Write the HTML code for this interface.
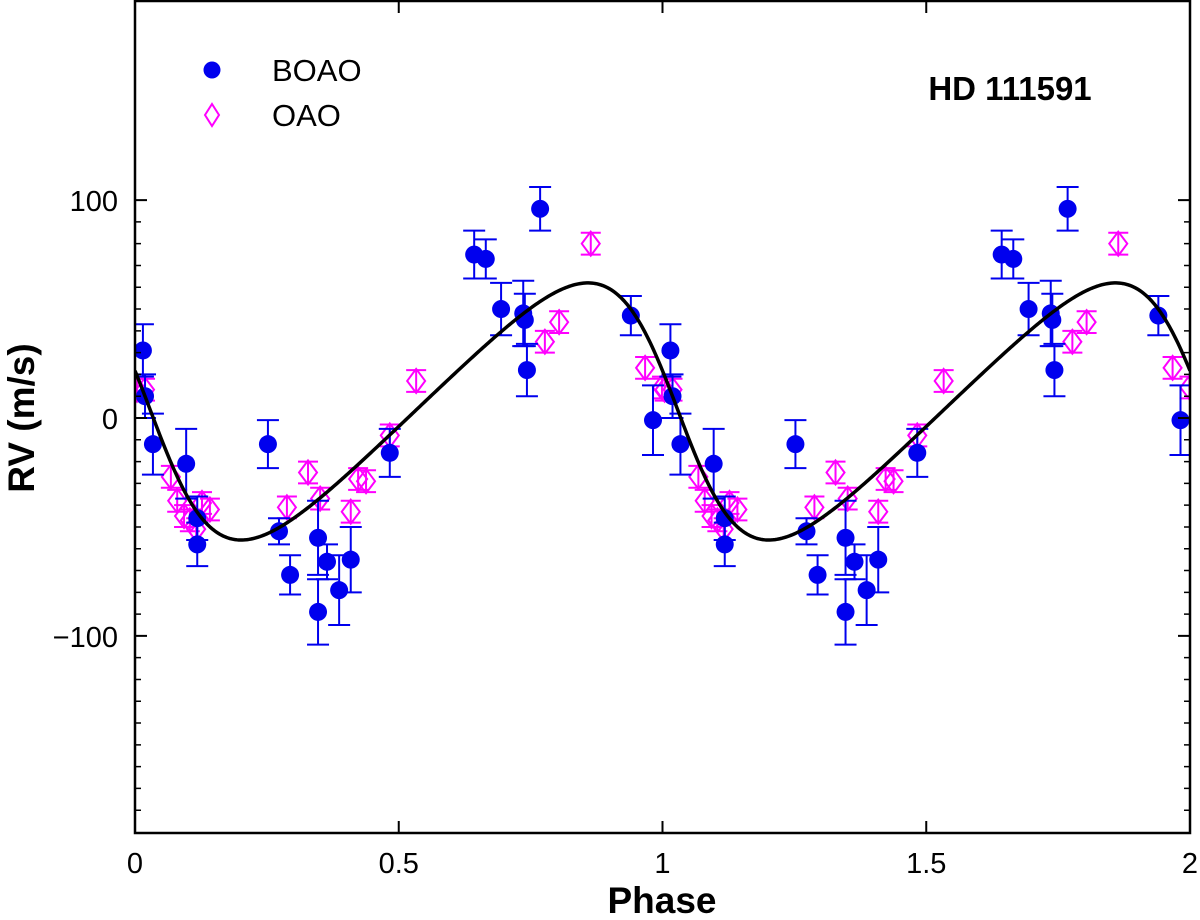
<!DOCTYPE html>
<html><head><meta charset="utf-8"><style>
body{margin:0;background:#fff;}
svg{display:block;font-family:"Liberation Sans",sans-serif;}
</style></head><body>
<svg id="chart" width="1200" height="920" viewBox="0 0 1200 920" xmlns="http://www.w3.org/2000/svg">
<defs><clipPath id="pc"><rect x="135" y="1" width="1055" height="832"/></clipPath></defs>
<g id="marks" clip-path="url(#pc)"></g>
<rect x="135" y="1" width="1055" height="832" fill="none" stroke="#000" stroke-width="2.5"/>
<g id="axes"></g>
<text x="662" y="913" font-size="37" font-weight="bold" text-anchor="middle">Phase</text>
<text transform="translate(34,418) rotate(-90)" font-size="37" font-weight="bold" text-anchor="middle">RV (m/s)</text>
<text x="1010" y="100" font-size="33" font-weight="bold" text-anchor="middle">HD 111591</text>
<g>
<circle cx="212" cy="70" r="8.5" fill="#0000ee"/>
<text x="272" y="81" font-size="31">BOAO</text>
<path d="M212 104 L219 115 L212 126 L205 115 Z" fill="none" stroke="#ff00ff" stroke-width="2"/>
<text x="272" y="126" font-size="31">OAO</text>
</g>
</svg>
<script>
const boaoPhase=[0.015,0.019,0.034,0.097,0.118,0.118,0.252,0.273,0.294,0.347,0.347,0.364,0.387,0.409,0.483,0.643,0.665,0.694,0.736,0.739,0.743,0.768,0.940,0.982];
const boaoRV=[31,10,-12,-21,-46,-58,-12,-52,-72,-55,-89,-66,-79,-65,-16,75,73,50,48,45,22,96,47,-1];
const boaoErr=[12,10,14,16,10,10,11,6,9,17,15,8,16,15,11,11,9,12,15,12,12,10,9,16];
const oaoPhase=[0.004,0.019,0.068,0.080,0.093,0.104,0.116,0.127,0.142,0.288,0.328,0.351,0.409,0.423,0.438,0.483,0.533,0.777,0.804,0.864,0.967,0.999];
const oaoRV=[13,13,-27,-38,-45,-47,-51,-39,-42,-41,-25,-37,-43,-28,-29,-8,17,35,44,80,23,14];
const oaoErr=[5,5,5,5,5,5,5,5,5,5,5,5,5,5,5,5,5,5,5,5,5,5];
const xTicks=[0,0.5,1,1.5,2];
const xTickLabels=["0","0.5","1","1.5","2"];
const yTicks=[-100,0,100];
const yTickLabels=["\u2212100","0","100"];
const orbitK=[59], orbitE=[0.25], orbitOmega=[90], orbitT0=[0.03], orbitGamma=[3];

const NS="http://www.w3.org/2000/svg";
const X=p=>135+(p/2)*1055;
const Y=v=>832-(v+190)/380*828;
const marks=document.getElementById('marks'), axes=document.getElementById('axes');
function mk(tag,attrs,parent){const e=document.createElementNS(NS,tag);for(const k in attrs)e.setAttribute(k,attrs[k]);parent.appendChild(e);return e;}

function model(ph){
  const e=orbitE[0],w=orbitOmega[0]*Math.PI/180;
  let M=2*Math.PI*(ph-orbitT0[0]);M=((M%(2*Math.PI))+2*Math.PI)%(2*Math.PI);
  let E=M;for(let i=0;i<30;i++)E-= (E-e*Math.sin(E)-M)/(1-e*Math.cos(E));
  const nu=2*Math.atan2(Math.sqrt(1+e)*Math.sin(E/2),Math.sqrt(1-e)*Math.cos(E/2));
  return orbitK[0]*(Math.cos(nu+w)+e*Math.cos(w))+orbitGamma[0];
}
let d="";for(let i=0;i<=600;i++){const p=i/300;d+=(i?"L":"M")+X(p).toFixed(2)+" "+Y(model(p)).toFixed(2);}

for(let c=0;c<2;c++){
  oaoPhase.forEach((p,i)=>{
    const x=X(p+c),y=Y(oaoRV[i]),y1=Y(oaoRV[i]+oaoErr[i]),y2=Y(oaoRV[i]-oaoErr[i]);
    const g=mk('g',{},marks);
    
    
    mk('path',{d:`M${x} ${y1}V${y2}M${x-10} ${y1}H${x+10}M${x-10} ${y2}H${x+10}`,stroke:'#ff00ff','stroke-width':2,fill:'none'},g);
    mk('path',{d:`M${x} ${y-12}L${x+9} ${y}L${x} ${y+12}L${x-9} ${y}Z`,stroke:'#ff00ff','stroke-width':2,fill:'none'},g);
  });
}
for(let c=0;c<2;c++){
  boaoPhase.forEach((p,i)=>{
    const x=X(p+c),y=Y(boaoRV[i]),y1=Y(boaoRV[i]+boaoErr[i]),y2=Y(boaoRV[i]-boaoErr[i]);
    const g=mk('g',{},marks);
    
    
    mk('path',{d:`M${x} ${y1}V${y2}M${x-11} ${y1}H${x+11}M${x-11} ${y2}H${x+11}`,stroke:'#0000ee','stroke-width':2,fill:'none'},g);
    mk('circle',{cx:x,cy:y,r:9,fill:'#0000ee'},g);
  });
}
const curve=mk('path',{d:d,stroke:'#000','stroke-width':3.5,fill:'none'},marks);



yTicks.forEach((v,i)=>{
  const y=Y(v);
  mk('path',{d:`M135 ${y}H147M1190 ${y}H1178`,stroke:'#000','stroke-width':2},axes);
  const t=mk('text',{x:118,y:y+11,'font-size':29,'text-anchor':'end'},axes);
  
  
  t.textContent=yTickLabels[i];
});
for(let v=-180;v<=100;v+=10){if(v%100===0)continue;const y=Y(v);
  mk('path',{d:`M135 ${y}H141M1190 ${y}H1184`,stroke:'#000','stroke-width':1.5},axes);}
xTicks.forEach((p,i)=>{
  const x=X(p);
  mk('path',{d:`M${x} 833V821M${x} 1V13`,stroke:'#000','stroke-width':2},axes);
  const t=mk('text',{x:x,y:873,'font-size':29,'text-anchor':'middle'},axes);
  
  
  t.textContent=xTickLabels[i];
});
</script>
</body></html>
